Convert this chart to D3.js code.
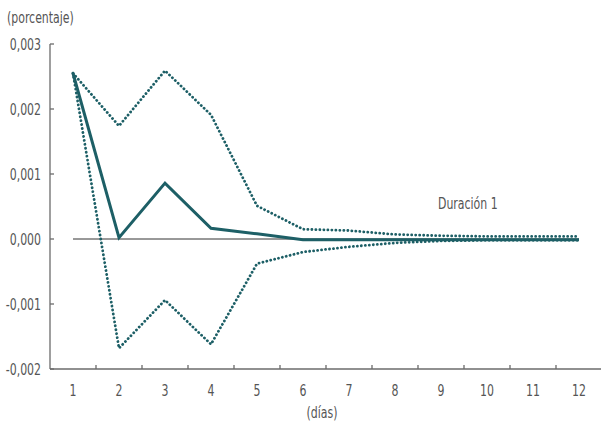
<!DOCTYPE html>
<html>
<head>
<meta charset="utf-8">
<script src="https://cdn.jsdelivr.net/npm/d3@7"></script>
<style>
  html, body { margin: 0; padding: 0; background: #fff; }
  text { font-family: "DejaVu Sans Condensed", "Liberation Sans Narrow", sans-serif; fill: #555; }
</style>
</head>
<body>
<svg id="chart" width="601" height="426"></svg>
<script>
const categories = ["1","2","3","4","5","6","7","8","9","10","11","12"];
const central = [0.00255, 0.00002, 0.00086, 0.000165, 0.00008, -0.00001, -0.00001, -0.00001, -0.00001, -0.00001, -0.00001, -0.00001];
const upper   = [0.00255, 0.00174, 0.00259, 0.00191, 0.00051, 0.00015, 0.00013, 0.00007, 0.00005, 0.00004, 0.00004, 0.00004];
const lower   = [0.00255, -0.00168, -0.00094, -0.00162, -0.00038, -0.0002, -0.00012, -0.00006, -0.00003, -0.00002, -0.00002, -0.00002];
const yTicks = [0.003, 0.002, 0.001, 0, -0.001, -0.002];
const yTickLabels = ["0,003", "0,002", "0,001", "0,000", "-0,001", "-0,002"];
const unitLabel = "(porcentaje)";
const xTitle = "(días)";
const seriesLabel = "Duración 1";

const svg = d3.select("#chart");
const color = "#1d5f66";
const axisColor = "#6b6b6b";
const FS = 16, SX = 0.76;

function label(x0, y0, str, anchor) {
  svg.append("text")
    .attr("transform", `translate(${x0},${y0}) scale(${SX},1)`)
    .attr("text-anchor", anchor || "start")
    .attr("font-size", FS)
    .text(str);
}

const x = d3.scaleBand().domain(categories).range([50, 602]);
const y = d3.scaleLinear().domain([-0.002, 0.003]).range([369, 44]);
const cx = d => x(d) + x.bandwidth() / 2;

// Y axis
svg.append("line").attr("x1", 50).attr("x2", 50).attr("y1", y(0.003)).attr("y2", y(-0.002))
  .attr("stroke", axisColor).attr("stroke-width", 1.3);
svg.selectAll(".ytick").data(yTicks).enter().append("line")
  .attr("x1", 50).attr("x2", 54).attr("y1", d => y(d)).attr("y2", d => y(d))
  .attr("stroke", axisColor).attr("stroke-width", 1.3);
yTicks.forEach((d, i) => label(41, y(d) + 6, yTickLabels[i], "end"));

// X axis
svg.append("line").attr("x1", 50).attr("x2", 601).attr("y1", y(-0.002)).attr("y2", y(-0.002))
  .attr("stroke", axisColor).attr("stroke-width", 1.3);
svg.selectAll(".xtick").data(categories.slice(1)).enter().append("line")
  .attr("x1", d => x(d)).attr("x2", d => x(d)).attr("y1", y(-0.002)).attr("y2", y(-0.002) - 4)
  .attr("stroke", axisColor).attr("stroke-width", 1.3);
categories.forEach(d => label(cx(d), 396, d, "middle"));

// Zero line
svg.append("line").attr("x1", cx(categories[0])).attr("x2", cx(categories[11]))
  .attr("y1", y(0)).attr("y2", y(0)).attr("stroke", "#333").attr("stroke-width", 1);

const line = d3.line().x((d, i) => cx(categories[i])).y(d => y(d));

svg.append("path").datum(upper).attr("d", line).attr("fill", "none")
  .attr("stroke", color).attr("stroke-width", 2.8).attr("stroke-linecap", "round")
  .attr("stroke-dasharray", "0.1 3.9");
svg.append("path").datum(lower).attr("d", line).attr("fill", "none")
  .attr("stroke", color).attr("stroke-width", 2.8).attr("stroke-linecap", "round")
  .attr("stroke-dasharray", "0.1 3.9");
svg.append("path").datum(central).attr("d", line).attr("fill", "none")
  .attr("stroke", color).attr("stroke-width", 3).attr("stroke-linejoin", "miter");

// Labels
label(7, 23, unitLabel);
label(322, 418, xTitle, "middle");
label(438, 209, seriesLabel);
</script>
</body>
</html>
